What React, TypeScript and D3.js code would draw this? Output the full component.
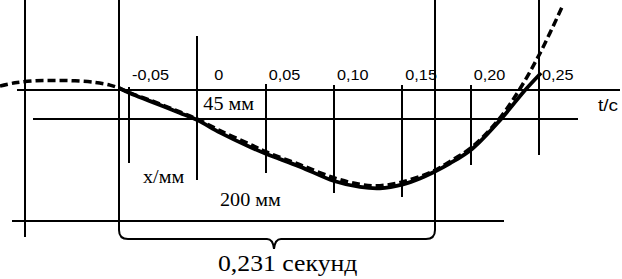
import * as d3 from "d3";

// time axis, seconds
const ticks = [-0.05, 0, 0.05, 0.1, 0.15, 0.2, 0.25];
const tickLabels = ["-0,05", "0", "0,05", "0,10", "0,15", "0,20", "0,25"];
// how far each tick line reaches (mm, above axis is negative)
const tickTop = [-4.6, -82, -9, -7.6, -7.6, -7.6, -140];
const tickBottom = [111, 137, 127, 157, 163, 115, 99];

// measured displacement x(t), mm (solid curve)
const tMeasured = [-0.0573, -0.0492, -0.0346, -0.0127, 0, 0.0166, 0.0386, 0.051, 0.0751, 0.1, 0.119, 0.1336, 0.1505, 0.1629, 0.1724, 0.1849, 0.201, 0.2215, 0.2399, 0.2515];
const xMeasured = [-3, 5, 17, 35, 46, 65, 87, 98, 117, 139, 148, 150, 144, 135, 126, 112, 90, 46, 0, -26];

// calculated displacement, mm (dashed curve)
const tModel = [-0.1444, -0.1334, -0.1188, -0.1042, -0.0895, -0.0749, -0.0639, -0.0573, -0.0492, -0.0346, -0.0127, 0, 0.0166, 0.0386, 0.051, 0.0751, 0.1, 0.119, 0.1336, 0.1505, 0.1724, 0.1849, 0.201, 0.2201, 0.2355, 0.2507, 0.2676];
const xModel = [-6, -11, -14, -14.5, -14, -11.5, -7.5, -3, 4.5, 15.5, 33.5, 44.5, 62, 83, 95, 114, 134, 144, 146, 140, 124, 109, 87, 46, 0, -56, -130];

// horizontal construction lines: level (mm) and time extent
const hLevels = [0, 45, 200];
const hFrom = [-0.132, -0.1202, -0.1356];
const hTo = [0.3093, 0.2785, 0.2244];

// extra vertical line on the left
const vLineT = -0.126;
const vLineRange = [-140, 224];

// bracket for the period
const bracketStart = -0.0573;
const bracketSpan = 0.231;

const W = 622;
const H = 279;

const serif = "'Liberation Serif', 'Times New Roman', serif";
const sans = "'Liberation Sans', Arial, sans-serif";
const SX = 1.12; // text in the picture is a bit wide

function Label({ x, y, size, font, children, anchor = "start" }: any) {
  return (
    <text
      transform={`translate(${x},${y}) scale(${SX},1)`}
      fontSize={size}
      fontFamily={font}
      textAnchor={anchor}
      fill="#000"
    >
      {children}
    </text>
  );
}

export default function App() {
  const x = d3.scaleLinear().domain([-0.05, 0.25]).range([129, 539]);
  const y = d3.scaleLinear().domain([0, 200]).range([90, 221]);

  const line = d3
    .line<[number, number]>()
    .x((d) => x(d[0]))
    .y((d) => y(d[1]))
    .curve(d3.curveCatmullRom.alpha(0.5));

  const measured = tMeasured.map((t, i) => [t, xMeasured[i]] as [number, number]);
  const model = tModel.map((t, i) => [t, xModel[i]] as [number, number]);

  // bracket
  const x0 = Math.round(x(bracketStart));
  const x1 = Math.round(x(bracketStart + bracketSpan));
  const xc = Math.round((x0 + x1) / 2 - 3);
  const yB = Math.round(y(200) + 18);
  const r = 9;
  const bracket = [
    `M${x0},0`,
    `L${x0},${yB - r}`,
    `Q${x0},${yB} ${x0 + r},${yB}`,
    `L${xc - 7},${yB}`,
    `Q${xc - 1},${yB} ${xc},${yB + 10}`,
    `Q${xc + 1},${yB} ${xc + 7},${yB}`,
    `L${x1 - r},${yB}`,
    `Q${x1},${yB} ${x1},${yB - r}`,
    `L${x1},0`,
  ].join(" ");

  return (
    <svg
      width={W}
      height={H}
      style={{ position: "absolute", left: 0, top: 0, background: "#fff" }}
    >
      <g stroke="#000" strokeWidth={2} fill="none" shapeRendering="crispEdges">
        {hLevels.map((lv, i) => (
          <line key={"h" + i} x1={x(hFrom[i])} x2={x(hTo[i])} y1={y(lv)} y2={y(lv)} />
        ))}
        <line x1={x(vLineT)} x2={x(vLineT)} y1={y(vLineRange[0])} y2={y(vLineRange[1])} />
        {ticks.map((t, i) => (
          <line key={"t" + i} x1={x(t)} x2={x(t)} y1={y(tickTop[i])} y2={y(tickBottom[i])} />
        ))}
      </g>
      <path d={bracket} fill="none" stroke="#000" strokeWidth={2} />

      <path d={line(measured) || ""} fill="none" stroke="#000" strokeWidth={3.8} />
      <path
        d={line(model) || ""}
        fill="none"
        stroke="#000"
        strokeWidth={3.5}
        strokeDasharray="8,4"
      />

      {ticks.map((t, i) => (
        <Label key={"l" + i} x={x(t) + (t === 0 ? 17 : 3)} y={y(0) - 10} size={14.5} font={sans}>
          {tickLabels[i]}
        </Label>
      ))}
      <Label x={598} y={y(0) + 21} size={17} font={sans}>
        t/c
      </Label>
      <Label x={x(0) + 6} y={y(45) - 9} size={18} font={serif}>
        45 мм
      </Label>
      <Label x={143} y={183} size={18} font={serif}>
        x/мм
      </Label>
      <Label x={220} y={206} size={18} font={serif}>
        200 мм
      </Label>
      <Label x={218} y={271} size={23} font={serif}>
        0,231 секунд
      </Label>
    </svg>
  );
}
